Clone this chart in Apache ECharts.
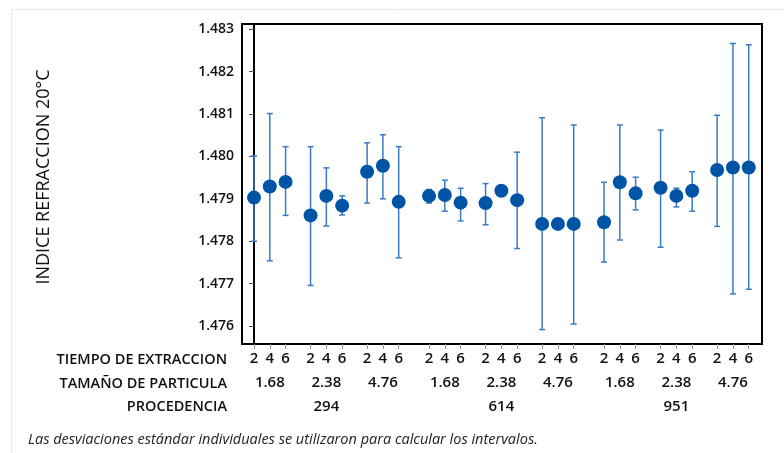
<!DOCTYPE html>
<html>
<head>
<meta charset="utf-8">
<script src="https://cdn.jsdelivr.net/npm/echarts@6/dist/echarts.min.js"></script>
<style>
  html, body { margin: 0; padding: 0; background: #fff; }
  #chart { width: 784px; height: 453px; }
</style>
</head>
<body>
<div id="chart"></div>
<script>
const tiempo = ['2', '4', '6'];
const tamano = ['1.68', '2.38', '4.76'];
const procedencia = ['294', '614', '951'];
const yTicks = [1.476, 1.477, 1.478, 1.479, 1.48, 1.481, 1.482, 1.483];

// media e intervalo por celda (procedencia > tamaño > tiempo)
const medias = [
  1.47903, 1.47929, 1.4794,
  1.47861, 1.47907, 1.47884,
  1.47964, 1.47978, 1.47893,
  1.47907, 1.47909, 1.47891,
  1.4789, 1.47919, 1.47897,
  1.47841, 1.47841, 1.47841,
  1.47845, 1.47939, 1.47913,
  1.47926, 1.47907, 1.47919,
  1.47968, 1.47974, 1.47974,
];
const superior = [
  1.48001, 1.48101, 1.48023,
  1.48023, 1.47973, 1.47907,
  1.48032, 1.48051, 1.48023,
  1.47922, 1.47944, 1.47925,
  1.47936, 1.47921, 1.4801,
  1.48091, 1.47842, 1.48074,
  1.47939, 1.48074, 1.47951,
  1.48062, 1.47925, 1.47964,
  1.48097, 1.48266, 1.48263,
];
const inferior = [
  1.478, 1.47754, 1.47861,
  1.47696, 1.47836, 1.47862,
  1.4789, 1.479, 1.47761,
  1.4789, 1.47871, 1.47848,
  1.47839, 1.47917, 1.47783,
  1.47592, 1.4784, 1.47605,
  1.47751, 1.47803, 1.47874,
  1.47786, 1.47881, 1.47871,
  1.47835, 1.47676, 1.47687,
];

const FONT = '"Open Sans", "Noto Sans", sans-serif';
const GROUP_STEP = 3.58;
const PROC_EXTRA = 0.34;

function xPos(i) {
  const g = Math.floor(i / 3);
  return (i % 3) + g * GROUP_STEP + Math.floor(g / 3) * PROC_EXTRA;
}

const posTiempo = medias.map((_, i) => xPos(i));
const posTamano = [];
for (let g = 0; g < 9; g++) posTamano.push(xPos(g * 3 + 1));
const posProc = [0, 1, 2].map((p) => xPos(p * 9 + 4));

function findLabel(positions, labels, value) {
  const idx = positions.findIndex((v) => Math.abs(v - value) < 1e-6);
  return idx < 0 ? '' : labels[idx % labels.length];
}

const X_MIN = -0.76;
const X_MAX = 32.16;

function makeXAxis(offset, positions, labels, showTicks) {
  return {
    type: 'value',
    min: X_MIN,
    max: X_MAX,
    position: 'bottom',
    offset: offset,
    splitLine: { show: false },
    axisLine: { show: offset === 0, lineStyle: { color: '#000', width: 2 } },
    axisTick: {
      show: showTicks,
      length: 5,
      customValues: positions,
      lineStyle: { color: '#999' },
    },
    axisLabel: {
      customValues: positions,
      margin: 7,
      color: '#111',
      fontFamily: FONT,
      fontSize: 15,
      fontWeight: 600,
      formatter: (v) => findLabel(positions, labels, v),
    },
  };
}

const chart = echarts.init(document.getElementById('chart'));
chart.setOption({
  animation: false,
  backgroundColor: '#fff',
  grid: {
    left: 242,
    right: 22,
    top: 24,
    bottom: 109,
    show: true,
    borderColor: '#000',
    borderWidth: 2,
  },
  xAxis: [
    makeXAxis(0, posTiempo, tiempo, true),
    makeXAxis(24, posTamano, tamano, false),
    makeXAxis(48, posProc, procedencia, false),
  ],
  yAxis: {
    type: 'value',
    min: 1.47558,
    max: 1.48312,
    splitLine: { show: false },
    axisLine: { show: true, lineStyle: { color: '#000', width: 2 } },
    axisTick: { length: 5, customValues: yTicks, lineStyle: { color: '#555' } },
    axisLabel: {
      customValues: yTicks,
      margin: 8,
      color: '#111',
      fontFamily: FONT,
      fontSize: 14,
      fontWeight: 600,
      formatter: (v) => v.toFixed(3),
    },
  },
  series: [
    {
      type: 'custom',
      xAxisIndex: 0,
      data: medias.map((_, i) => [posTiempo[i], inferior[i], superior[i]]),
      encode: { x: 0, y: [1, 2] },
      renderItem: function (params, api) {
        const x = api.value(0);
        const lo = api.coord([x, api.value(1)]);
        const hi = api.coord([x, api.value(2)]);
        const style = { stroke: '#3a7cc4', lineWidth: 1.5 };
        const hw = 3;
        return {
          type: 'group',
          children: [
            { type: 'line', shape: { x1: lo[0], y1: lo[1], x2: hi[0], y2: hi[1] }, style },
            { type: 'line', shape: { x1: lo[0] - hw, y1: lo[1], x2: lo[0] + hw, y2: lo[1] }, style },
            { type: 'line', shape: { x1: hi[0] - hw, y1: hi[1], x2: hi[0] + hw, y2: hi[1] }, style },
          ],
        };
      },
      z: 2,
    },
    {
      type: 'scatter',
      xAxisIndex: 0,
      symbol: 'circle',
      symbolSize: 14,
      itemStyle: { color: '#0054a6', opacity: 1 },
      data: medias.map((m, i) => [posTiempo[i], m]),
      z: 3,
    },
  ],
  graphic: [
    {
      type: 'rect',
      shape: { x: 11.5, y: 9.5, width: 800, height: 500 },
      style: { fill: 'none', stroke: '#e8e8e8', lineWidth: 1 },
      silent: true,
    },
    {
      type: 'text',
      x: 44,
      y: 177,
      rotation: Math.PI / 2,
      style: {
        text: 'INDICE REFRACCION 20°C',
        font: '18px ' + FONT,
        fill: '#111',
        align: 'center',
        verticalAlign: 'middle',
      },
    },
    {
      type: 'text',
      x: 227,
      y: 360,
      style: { text: 'TIEMPO DE EXTRACCION', font: '600 14.5px ' + FONT, fill: '#111', align: 'right', verticalAlign: 'middle' },
    },
    {
      type: 'text',
      x: 227,
      y: 383.5,
      style: { text: 'TAMAÑO DE PARTICULA', font: '600 14.5px ' + FONT, fill: '#111', align: 'right', verticalAlign: 'middle' },
    },
    {
      type: 'text',
      x: 227,
      y: 407,
      style: { text: 'PROCEDENCIA', font: '600 14.5px ' + FONT, fill: '#111', align: 'right', verticalAlign: 'middle' },
    },
    {
      type: 'text',
      x: 28,
      y: 440,
      style: {
        text: 'Las desviaciones estándar individuales se utilizaron para calcular los intervalos.',
        font: 'italic 14.5px ' + FONT,
        fill: '#222',
        align: 'left',
        verticalAlign: 'middle',
      },
    },
  ],
});
window.onresize = function () {
  chart.resize();
};
</script>
</body>
</html>
